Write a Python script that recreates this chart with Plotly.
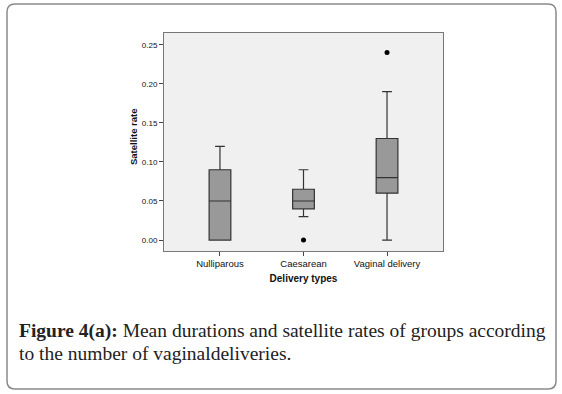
import plotly.graph_objects as go

categories = ["Nulliparous", "Caesarean", "Vaginal delivery"]
lower_fence = [0.0, 0.03, 0.0]
q1 = [0.0, 0.04, 0.06]
median = [0.05, 0.05, 0.08]
q3 = [0.09, 0.065, 0.13]
upper_fence = [0.12, 0.09, 0.19]
outlier_cats = ["Caesarean", "Vaginal delivery"]
outlier_vals = [0.0, 0.24]
y_ticks = [0.0, 0.05, 0.10, 0.15, 0.20, 0.25]
y_tick_labels = ["0.00", "0.05", "0.10", "0.15", "0.20", "0.25"]

W, H = 562, 394
L, R, T, B = 164, 443, 33, 251

def px(x):
    return (x - L) / (R - L)

def py(y):
    return (B - y) / (B - T)

fig = go.Figure()
fig.add_trace(go.Box(
    x=categories, q1=q1, median=median, q3=q3,
    lowerfence=lower_fence, upperfence=upper_fence,
    boxpoints=False, width=0.26, whiskerwidth=0.45,
    fillcolor="#999999", line=dict(color="#333333", width=1.2),
    showlegend=False, hoverinfo="skip",
))
fig.add_trace(go.Scatter(
    x=outlier_cats, y=outlier_vals, mode="markers",
    marker=dict(color="black", size=5), showlegend=False, hoverinfo="skip",
))

# outer rounded frame
x0, x1, y0, y1, r = 7, 556, 4, 389, 8
path = (f"M {px(x0+r)},{py(y0)} L {px(x1-r)},{py(y0)} "
        f"Q {px(x1)},{py(y0)} {px(x1)},{py(y0+r)} "
        f"L {px(x1)},{py(y1-r)} Q {px(x1)},{py(y1)} {px(x1-r)},{py(y1)} "
        f"L {px(x0+r)},{py(y1)} Q {px(x0)},{py(y1)} {px(x0)},{py(y1-r)} "
        f"L {px(x0)},{py(y0+r)} Q {px(x0)},{py(y0)} {px(x0+r)},{py(y0)} Z")
fig.add_shape(type="path", path=path, xref="paper", yref="paper",
              line=dict(color="#8a8a8a", width=1.5), layer="below")

serif = "Liberation Serif, DejaVu Serif, serif"
fig.add_annotation(x=px(17), y=py(331), xref="paper", yref="paper",
                   xanchor="left", yanchor="middle", showarrow=False,
                   text="<b>Figure 4(a):</b> Mean durations and satellite rates of groups according",
                   font=dict(family=serif, size=19.5, color="#222222"))
fig.add_annotation(x=px(17), y=py(353), xref="paper", yref="paper",
                   xanchor="left", yanchor="middle", showarrow=False,
                   text="to the number of vaginaldeliveries.",
                   font=dict(family=serif, size=19.5, color="#222222"))

sans = "Liberation Sans, Arial, sans-serif"
# y-axis title placed as annotation to sit close to tick labels
fig.add_annotation(x=px(133), y=py(137), xref="paper", yref="paper",
                   xanchor="center", yanchor="middle", showarrow=False,
                   textangle=-90, text="<b>Satellite rate</b>",
                   font=dict(family=sans, size=9.5, color="#111111"))

fig.update_layout(
    width=W, height=H,
    margin=dict(l=L, r=W - R, t=T, b=H - B),
    paper_bgcolor="white", plot_bgcolor="#f0f0f0",
    font=dict(family=sans, size=8, color="#111111"),
    xaxis=dict(
        range=[-0.67, 2.67], categoryorder="array", categoryarray=categories,
        showline=True, linecolor="#777777", linewidth=1, mirror=True,
        ticks="outside", ticklen=4, tickcolor="#444444",
        tickfont=dict(size=9.5),
        showgrid=False, zeroline=False,
        title=dict(text="<b>Delivery types</b>", font=dict(size=10), standoff=6),
    ),
    yaxis=dict(
        range=[-0.014, 0.265], tickvals=y_ticks, ticktext=y_tick_labels,
        showline=True, linecolor="#777777", linewidth=1, mirror=True,
        ticks="outside", ticklen=4, tickcolor="#444444",
        tickfont=dict(size=8),
        showgrid=False, zeroline=False,
    ),
)

fig.write_html("out.html", config={"displayModeBar": False},
               post_script="document.body.style.margin='0';")
